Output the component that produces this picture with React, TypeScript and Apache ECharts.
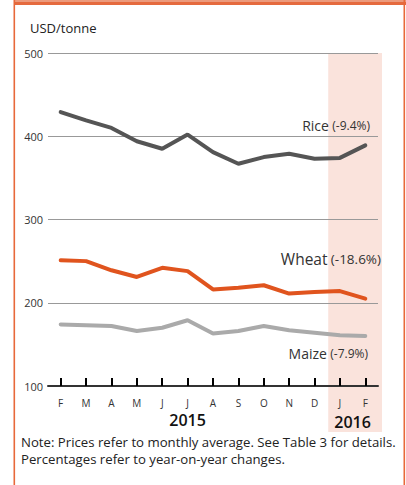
import React, { useEffect, useRef } from "react";
import * as echarts from "echarts";

const months = ["F", "M", "A", "M", "J", "J", "A", "S", "O", "N", "D", "J", "F"];
const rice = [429, 419, 410, 394, 385, 402, 381, 367, 375, 379, 373, 374, 389];
const wheat = [251, 250, 239, 231, 242, 238, 216, 218, 221, 211, 213, 214, 205];
const maize = [174, 173, 172, 166, 170, 179, 163, 166, 172, 167, 164, 161, 160];
const yTicks = [100, 200, 300, 400, 500];

const FONT = "'Open Sans', 'Noto Sans', sans-serif";

export default function App() {
  const ref = useRef<HTMLDivElement>(null);
  useEffect(() => {
    document.body.style.margin = "0";
    const chart = echarts.init(ref.current!, null, { renderer: "svg" });
    const base: any = {
      animation: false,
      textStyle: { fontFamily: FONT },
      grid: { left: 48, right: 28, top: 53, bottom: 99 },
      xAxis: {
        type: "category",
        data: months,
        boundaryGap: true,
        z: 10,
        axisLine: { show: true, lineStyle: { color: "#333", width: 2 } },
        axisTick: { show: true, interval: 0, alignWithLabel: true, inside: true, length: 8, lineStyle: { color: "#000", width: 2 } },
        axisLabel: { color: "#333", fontSize: 10, margin: 12, fontFamily: FONT, interval: 0 },
      },
      yAxis: {
        type: "value",
        min: yTicks[0],
        max: yTicks[yTicks.length - 1],
        interval: 100,
        axisLine: { show: false },
        axisTick: { show: false },
        axisLabel: { color: "#333", fontSize: 11, margin: 5, fontFamily: FONT },
        splitLine: { lineStyle: { color: "#999", width: 1 } },
      },
      series: [
        { name: "Rice", type: "line", data: rice, showSymbol: false, z: 5, lineStyle: { color: "#555555", width: 4, cap: "round" } },
        { name: "Wheat", type: "line", data: wheat, showSymbol: false, z: 5, lineStyle: { color: "#e0541e", width: 4, cap: "round" } },
        { name: "Maize", type: "line", data: maize, showSymbol: false, z: 5, lineStyle: { color: "#aaaaaa", width: 4, cap: "round" } },
      ],
    };
    chart.setOption(base);
    const xJ = chart.convertToPixel({ xAxisIndex: 0 }, 11) as number;
    const xF = chart.convertToPixel({ xAxisIndex: 0 }, 12) as number;
    const band = xF - xJ;
    const yTop = chart.convertToPixel({ yAxisIndex: 0 }, 500) as number;
    const x2015 = chart.convertToPixel({ xAxisIndex: 0 }, 5) as number;
    const x2016 = (xJ + xF) / 2;
    chart.setOption({
      graphic: [
        { type: "rect", z: -10, shape: { x: xJ - band / 2 + 1, y: yTop, width: band * 2 + 3, height: 432 - yTop }, style: { fill: "#fae3dc" } },
        { type: "rect", z: 100, shape: { x: 14, y: 0, width: 392, height: 2 }, style: { fill: "#ec9a7c" } },
        { type: "rect", z: 100, shape: { x: 14, y: 2, width: 392, height: 3 }, style: { fill: "#e56a3e" } },
        { type: "rect", z: 100, shape: { x: 13.5, y: 0, width: 1.6, height: 485 }, style: { fill: "#e8693a" } },
        { type: "rect", z: 100, shape: { x: 403.5, y: 0, width: 1.6, height: 485 }, style: { fill: "#e8693a" } },
        { type: "text", x: 30, y: 28, style: { text: "USD/tonne", font: `13px ${FONT}`, fill: "#222", verticalAlign: "middle" } },
        { type: "text", x: x2015, y: 420, style: { text: "2015", font: `600 16px ${FONT}`, fill: "#111", align: "center", verticalAlign: "middle" } },
        { type: "text", x: x2016, y: 422, style: { text: "2016", font: `600 16px ${FONT}`, fill: "#111", align: "center", verticalAlign: "middle" } },
        {
          type: "text", x: 370, y: 125, z: 20,
          style: { text: "{a|Rice} {b|(-9.4%)}", align: "right", verticalAlign: "middle",
            rich: { a: { fontSize: 14, fill: "#333", fontFamily: FONT }, b: { fontSize: 12, fill: "#333", fontFamily: FONT } } },
        },
        {
          type: "text", x: 381, y: 259, z: 20,
          style: { text: "{a|Wheat} {b|(-18.6%)}", align: "right", verticalAlign: "middle",
            rich: { a: { fontSize: 15.5, fill: "#333", fontFamily: FONT }, b: { fontSize: 13.5, fill: "#333", fontFamily: FONT } } },
        },
        {
          type: "text", x: 368, y: 353, z: 20,
          style: { text: "{a|Maize} {b|(-7.9%)}", align: "right", verticalAlign: "middle",
            rich: { a: { fontSize: 14, fill: "#333", fontFamily: FONT }, b: { fontSize: 12, fill: "#333", fontFamily: FONT } } },
        },
        { type: "text", x: 21, y: 442, style: { text: "Note: Prices refer to monthly average. See Table 3 for details.", font: `13.2px ${FONT}`, fill: "#222", verticalAlign: "middle" } },
        { type: "text", x: 21, y: 459, style: { text: "Percentages refer to year-on-year changes.", font: `13.2px ${FONT}`, fill: "#222", verticalAlign: "middle" } },
      ],
    });
    return () => chart.dispose();
  }, []);
  return <div ref={ref} style={{ width: 406, height: 485, position: "absolute", left: 0, top: 0 }} />;
}
